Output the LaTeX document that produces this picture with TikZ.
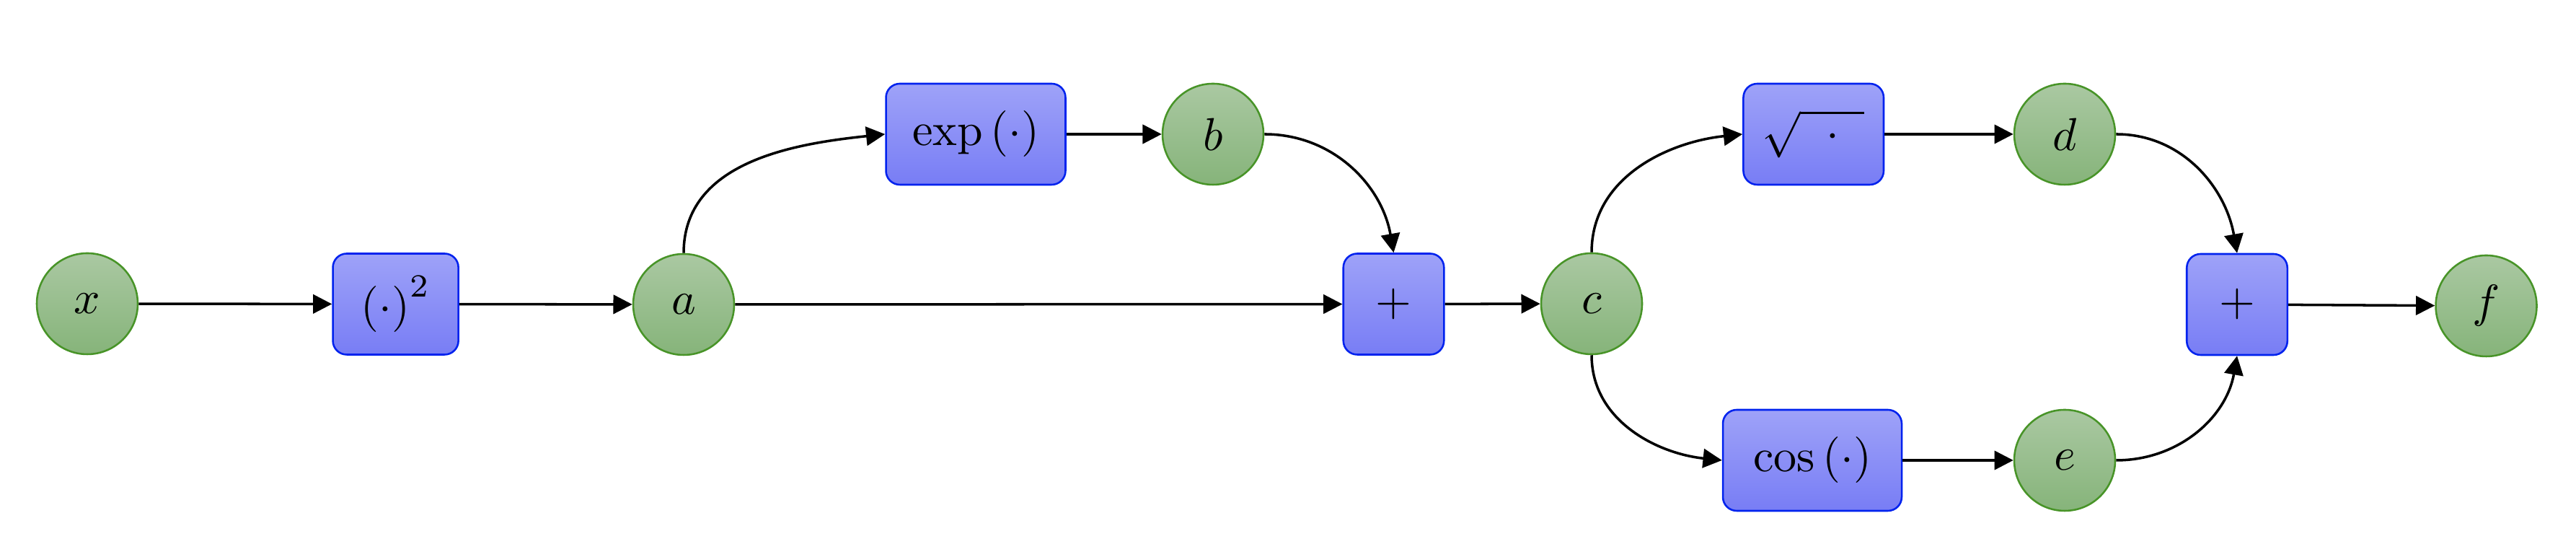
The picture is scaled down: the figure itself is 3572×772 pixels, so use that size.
\documentclass[tikz,border=0pt]{standalone}
\usetikzlibrary{arrows.meta}
\definecolor{gtop}{RGB}{170,200,162}
\definecolor{gbot}{RGB}{134,180,122}
\definecolor{gline}{RGB}{72,148,40}
\definecolor{btop}{RGB}{158,162,248}
\definecolor{bbot}{RGB}{120,125,245}
\definecolor{bline}{RGB}{0,34,238}
\begin{document}
\begin{tikzpicture}[x=0.15625pt,y=-0.15625pt,
  varnode/.style={circle, draw=gline, line width=0.4pt, top color=gtop, bottom color=gbot,
    minimum size=21.875pt, inner sep=0pt},
  opnode/.style={rectangle, rounded corners=3pt, draw=bline, line width=0.4pt,
    top color=btop, bottom color=bbot, minimum height=21.875pt, inner sep=0pt},
  arr/.style={-{Triangle[length=4.1pt,width=4.1pt]}, line width=0.55pt}]
\useasboundingbox (0,0) rectangle (3572,772);
\node[varnode] (x) at (121,421) {$x$};
\node[opnode, minimum width=27.2pt] (sq) at (548.6,421.5) {$\left(\cdot\right)^2$};
\node[varnode] (a) at (948,422) {$a$};
\node[opnode, minimum width=38.9pt] (exp) at (1353,186) {$\exp\left(\cdot\right)$};
\node[varnode] (b) at (1682,186) {$b$};
\node[opnode, minimum width=21.8pt] (p1) at (1932.5,421.5) {$+$};
\node[varnode] (c) at (2207,421) {$c$};
\node[opnode, minimum width=30.4pt] (sqrt) at (2514.7,186) {$\sqrt{\hspace{5.5pt}\cdot\hspace{5.5pt}}$};
\node[varnode] (d) at (2863,186) {$d$};
\node[opnode, minimum width=38.75pt] (cos) at (2513,638) {$\cos\left(\cdot\right)$};
\node[varnode] (e) at (2863,638) {$e$};
\node[opnode, minimum width=21.8pt] (p2) at (3102,422) {$+$};
\node[varnode] (f) at (3447.5,424) {$f$};

\draw[arr] (x) -- (sq);
\draw[arr] (sq) -- (a);
\draw[arr] (a) -- (p1);
\draw[arr] (a.north) to[out=90,in=186] (exp.west);
\draw[arr] (exp) -- (b);
\draw[arr] (b.east) to[out=0,in=100] (p1.north);
\draw[arr] (p1) -- (c);
\draw[arr] (c.north) to[out=90,in=186] (sqrt.west);
\draw[arr] (c.south) to[out=-90,in=174] (cos.west);
\draw[arr] (sqrt) -- (d);
\draw[arr] (cos) -- (e);
\draw[arr] (d.east) to[out=0,in=100] (p2.north);
\draw[arr] (e.east) to[out=0,in=-100] (p2.south);
\draw[arr] (p2) -- (f);
\end{tikzpicture}
\end{document}
